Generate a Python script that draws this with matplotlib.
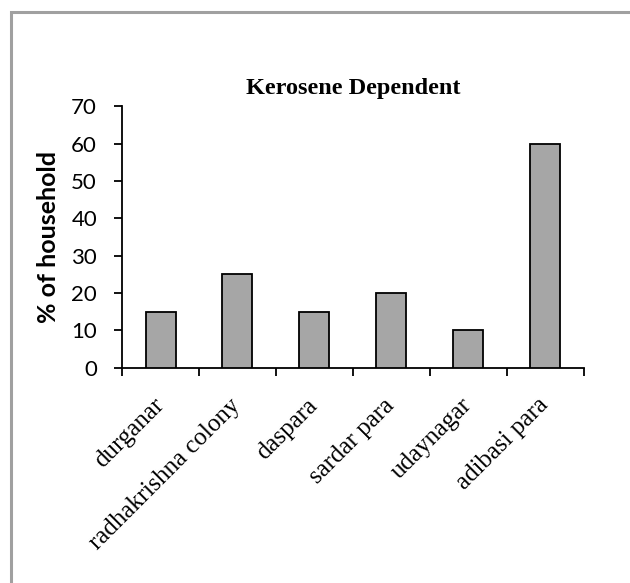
import matplotlib.pyplot as plt
from matplotlib.patches import Rectangle
from matplotlib.transforms import ScaledTranslation

# data
areas = ['durganar', 'radhakrishna colony', 'daspara', 'sardar para', 'udaynagar', 'adibasi para']
pct = [15, 25, 15, 20, 10, 60]
yticks = [0, 10, 20, 30, 40, 50, 60, 70]

fig = plt.figure(figsize=(6.3, 5.83), dpi=100)
ax = fig.add_axes([0.1937, 0.369, 0.733, 0.449])

# grey chart border (Excel-like frame, cut off at right/bottom)
fig.patches.append(Rectangle((0.0175, -0.1), 1.1, 0.1 + 0.979, transform=fig.transFigure,
                             fill=False, edgecolor='#a0a0a0', linewidth=2.2))

x = list(range(len(areas)))
ax.bar(x, pct, width=0.39, color='#a6a6a6', edgecolor='black', linewidth=1.3, zorder=3)

ax.set_xlim(-0.5, len(areas) - 0.5)
ax.set_ylim(0, 70)
ax.set_yticks(yticks)
ax.set_yticklabels([str(v) for v in yticks], fontsize=16, family='Lato')
ax.tick_params(axis='y', direction='out', length=6, width=1.3, pad=12)

ax.set_xticks(x)
ax.set_xticklabels(areas, rotation=45, ha='right', va='top', rotation_mode='anchor',
                   fontsize=18, family='Liberation Serif')
ax.tick_params(axis='x', which='major', length=0, pad=19)
shift = ScaledTranslation(-8 / 100, 0, fig.dpi_scale_trans)
for lab in ax.get_xticklabels():
    lab.set_transform(lab.get_transform() + shift)
ax.set_xticks([i - 0.5 for i in range(len(areas) + 1)], minor=True)
ax.tick_params(axis='x', which='minor', direction='out', length=6, width=1.3)

for s in ['top', 'right']:
    ax.spines[s].set_visible(False)
for s in ['left', 'bottom']:
    ax.spines[s].set_linewidth(1.3)

ax.set_ylabel('% of household', fontsize=18, fontweight='bold', family='Lato', labelpad=8)
ax.set_title('Kerosene Dependent', fontsize=17.5, fontweight='bold', family='Liberation Serif', pad=9)

fig.savefig('out.png', dpi=100)
